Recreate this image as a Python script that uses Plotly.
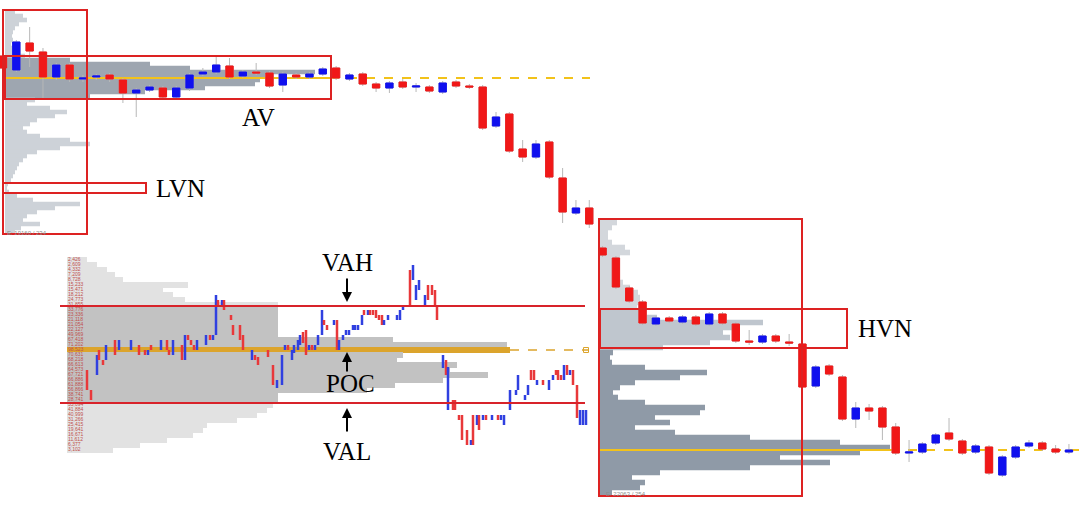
import plotly.graph_objects as go

W, H = 1080, 507
RED, BLUE = "#f01818", "#1010ee"
IRED, IBLUE = "#e8383a", "#3040e0"
ORANGE = "#dca42c"
BOXRED = "#dd2222"
YELLOW = "#f2c21a"

# ---------------- main candle series (price units, up = higher) ----------------
c_open = [451, 437, 464, 455, 430, 442, 428, 430, 432, 427, 414, 417, 419, 410, 419, 433, 435, 441, 431, 435,
          434, 422, 432, 430, 433, 439, 428, 433, 423, 419, 425, 420, 420, 415, 425, 421, 420, 381, 393, 358,
          350, 365, 329, 294, 299, 259, 249, 219, 205, 183, 189, 185, 190, 183, 193, 183, 166, 165, 171, 165,
          163, 121, 141, 130, 88, 99, 99, 80, 54, 55, 64, 74, 66, 55, 60, 32, 50, 61, 64, 58, 55]
c_high = [453, 467, 480, 459, 444, 444, 432, 433, 434, 429, 419, 422, 421, 421, 434, 439, 450, 449, 437, 444,
          436, 435, 434, 435, 440, 441, 434, 435, 425, 426, 428, 424, 422, 426, 427, 423, 422, 395, 395, 367,
          367, 367, 339, 307, 307, 261, 251, 221, 207, 191, 191, 192, 192, 195, 195, 185, 177, 173, 173, 173,
          165, 142, 143, 132, 105, 103, 101, 84, 67, 65, 74, 89, 68, 63, 62, 52, 62, 67, 66, 62, 63]
c_low = [437, 435, 440, 409, 427, 425, 425, 427, 425, 404, 390, 415, 408, 408, 416, 431, 433, 428, 429, 432,
         419, 415, 428, 428, 431, 427, 426, 421, 415, 414, 418, 415, 414, 413, 419, 418, 377, 379, 354, 345,
         348, 328, 284, 292, 279, 250, 218, 204, 182, 181, 184, 183, 181, 181, 182, 164, 162, 163, 164, 161,
         118, 119, 131, 86, 79, 87, 67, 52, 45, 53, 62, 66, 52, 53, 32, 30, 48, 59, 56, 53, 53]
c_close = [439, 465, 456, 430, 442, 428, 429, 431, 428, 414, 417, 420, 410, 419, 432, 435, 442, 430, 435, 434,
           421, 433, 430, 433, 438, 429, 432, 423, 419, 424, 420, 421, 416, 424, 421, 420, 379, 390, 356, 350,
           363, 330, 295, 299, 283, 252, 220, 206, 184, 189, 186, 190, 183, 193, 184, 166, 165, 171, 166, 164,
           120, 140, 133, 88, 99, 96, 80, 54, 55, 63, 72, 68, 54, 61, 34, 50, 60, 64, 58, 55, 57]
c_idx = list(range(len(c_open)))

# ---------------- volume profile 1 (top-left session) ----------------
p1_levels = [495 - 4 * k for k in range(56)]
p1_vol = [10, 18, 22, 14, 10, 8, 7, 8, 6, 8, 10, 20, 65, 145, 185, 310, 260, 255, 250, 200,
          140, 85, 30, 22, 45, 62, 50, 32, 25, 18, 22, 35, 65, 85, 55, 32, 22, 18, 14, 12,
          10, 8, 6, 3, 2, 4, 12, 28, 75, 50, 32, 22, 18, 35, 16, 10]
p1_va = (408, 450)
p1_poc = 429

# ---------------- volume profile 2 (right session) ----------------
p2_levels = [284.5 - 5 * k for k in range(55)]
p2_vol = [17, 12, 8, 8, 12, 25, 30, 20, 14, 12, 13, 18, 23, 30, 38, 40, 40, 37, 40, 57,
          163, 137, 123, 130, 110, 63, 13, 10, 12, 45, 107, 80, 35, 20, 13, 18, 45, 105, 100, 55,
          70, 35, 75, 150, 240, 290, 260, 180, 230, 150, 60, 32, 45, 40, 12]
p2_hvn = (157, 197)
p2_poc = 57

# ---------------- inset: bar chart with value-area profile ----------------
in_levels = [195 - 5 * j for j in range(39)]
in_vol = [20, 30, 40, 48, 56, 121, 96, 106, 118, 211, 211, 211, 211, 211, 211, 211, 326, 440, 443, 336,
          330, 390, 383, 421, 376, 328, 300, 211, 211, 206, 200, 190, 170, 140, 136, 126, 100, 73, 46]
in_labels = ["2,426", "2,609", "4,332", "7,209", "8,728", "15,233", "15,471", "18,212", "24,773", "31,855",
             "33,776", "23,336", "21,118", "21,054", "22,127", "49,969", "67,418", "71,202", "98,523", "70,631",
             "68,218", "66,613", "64,573", "67,721", "66,886", "61,888", "56,866", "38,741", "28,741", "35,094",
             "41,884", "40,999", "31,266", "25,415", "19,641", "16,671", "11,612", "6,377", "3,102"]
in_vah, in_val, in_poc = 149, 52, 105

in_t = [27, 31, 37, 39, 43, 46, 55, 59, 71, 79, 85, 88, 91, 101, 107, 109, 113, 122, 125, 128,
        131, 134, 137, 146, 150, 153, 156, 158, 162, 164, 171, 173, 180, 183, 192, 195, 198, 208, 213, 217,
        222, 225, 228, 232, 234, 238, 240, 243, 246, 249, 252, 255, 258, 262, 264, 267, 274, 277, 279, 283,
        286, 289, 293, 295, 298, 302, 304, 308, 310, 313, 316, 319, 322, 324, 328, 337, 340, 343, 350, 353,
        356, 359, 365, 368, 372, 375, 377, 383, 386, 388, 393, 395, 399, 402, 407, 411, 413, 417, 419, 423,
        426, 432, 438, 441, 444, 450, 456, 458, 465, 468, 471, 474, 477, 483, 489, 493, 496, 498, 501, 504,
        507, 510, 513, 517, 520, 523, 526]
in_high = [85, 65, 100, 105, 95, 110, 115, 115, 115, 110, 105, 105, 110, 115, 115, 105, 115, 110, 120, 120,
           115, 110, 115, 120, 120, 120, 160, 155, 155, 155, 140, 130, 130, 120, 105, 100, 98, 105, 90, 75,
           100, 110, 110, 105, 110, 115, 120, 123, 125, 110, 110, 110, 120, 145, 135, 130, 135, 135, 115, 120,
           125, 125, 130, 130, 130, 140, 145, 145, 145, 145, 145, 140, 140, 135, 140, 140, 145, 150, 185, 190,
           170, 175, 160, 170, 170, 165, 150, 100, 95, 88, 55, 55, 40, 40, 25, 15, 40, 40, 40, 40,
           40, 40, 40, 40, 40, 65, 65, 80, 60, 70, 85, 85, 75, 75, 75, 80, 85, 85, 80, 90,
           90, 85, 85, 70, 45, 45, 45]
in_low = [65, 55, 80, 95, 90, 95, 100, 105, 105, 100, 100, 100, 105, 105, 105, 100, 100, 95, 95, 115,
          110, 105, 105, 110, 115, 115, 120, 150, 150, 145, 135, 120, 115, 105, 95, 95, 90, 98, 70, 67,
          70, 105, 105, 95, 102, 105, 110, 112, 100, 105, 105, 105, 110, 120, 130, 125, 130, 105, 105, 115,
          120, 120, 125, 125, 125, 130, 140, 140, 140, 140, 137, 135, 130, 130, 135, 135, 135, 145, 150, 175,
          155, 165, 150, 155, 160, 150, 135, 87, 80, 45, 45, 45, 35, 15, 10, 10, 10, 30, 25, 35,
          35, 35, 35, 35, 30, 45, 60, 65, 55, 60, 75, 75, 70, 70, 65, 75, 80, 75, 75, 75,
          80, 80, 70, 37, 30, 30, 30]
in_up = "rrbrrbrbbrrbrbrrbrbrrrbbrbbrbrrrrrbrrrrbbbrbbbbrrbrbbbrrbrbbbbbbbbrbrrrrrbbbbbrbbbbrrrrbrbrrrrrbrbrbrbrbbbbbbbrrbrbbrrrbrbrrbbb"

# ---------------- build traces ----------------
fig = go.Figure()

# inset profile (base subplot x/y)
in_cols = [ORANGE if v == in_poc else ("#c2c2c2" if in_val < v < in_vah else "#e2e2e2") for v in in_levels]
fig.add_trace(go.Bar(x=in_vol, y=in_levels, orientation="h", width=6,
                     marker=dict(color=in_cols, line=dict(width=0)), xaxis="x", yaxis="y", hoverinfo="skip"))
fig.add_trace(go.Scatter(x=[1] * len(in_levels), y=in_levels, mode="text", text=in_labels,
                         textposition="middle right", textfont=dict(size=5, color="#c0504d", family="Liberation Sans"),
                         xaxis="x", yaxis="y", hoverinfo="skip"))
poc_len = max(in_vol)
fig.add_trace(go.Scatter(x=[poc_len, poc_len + 78], y=[in_poc, in_poc], mode="lines",
                         line=dict(color=ORANGE, width=1.5, dash="dash"), xaxis="x", yaxis="y", hoverinfo="skip"))
fig.add_trace(go.Scatter(x=[poc_len + 76], y=[in_poc], mode="markers",
                         marker=dict(symbol="square-open", size=5, color=ORANGE, line=dict(width=1)),
                         xaxis="x", yaxis="y", hoverinfo="skip"))

# inset bars (x2/y)
in_open = [lo if u == "b" else hi for hi, lo, u in zip(in_high, in_low, in_up)]
in_close = [hi if u == "b" else lo for hi, lo, u in zip(in_high, in_low, in_up)]
fig.add_trace(go.Ohlc(x=in_t, open=in_open, high=in_high, low=in_low, close=in_close,
                      increasing=dict(line=dict(color=IBLUE, width=2.5)),
                      decreasing=dict(line=dict(color=IRED, width=2.5)),
                      tickwidth=0, xaxis="x2", yaxis="y", hoverinfo="skip"))
for lvl in (in_vah, in_val):
    fig.add_trace(go.Scatter(x=[0, 525], y=[lvl, lvl], mode="lines", line=dict(color="#d8232a", width=2),
                             xaxis="x2", yaxis="y", hoverinfo="skip"))

# profile 1 (x3/y2)
p1_cols = ["#9ea6b0" if p1_va[0] <= v <= p1_va[1] else "#cdd2d8" for v in p1_levels]
fig.add_trace(go.Bar(x=p1_vol, y=p1_levels, orientation="h", width=4.6,
                     marker=dict(color=p1_cols, line=dict(width=0)), xaxis="x3", yaxis="y2", hoverinfo="skip"))
fig.add_trace(go.Scatter(x=[0, 325], y=[p1_poc, p1_poc], mode="lines", line=dict(color=YELLOW, width=2),
                         xaxis="x3", yaxis="y2", hoverinfo="skip"))
fig.add_trace(go.Scatter(x=[325, 585], y=[p1_poc, p1_poc], mode="lines",
                         line=dict(color=YELLOW, width=2, dash="dash"), xaxis="x3", yaxis="y2", hoverinfo="skip"))

# profile 2 (x4/y2)
p2_cols = ["#d3d7dc" if v > p2_hvn[1] else ("#bfc6ce" if v >= p2_hvn[0] else "#8f9aa7") for v in p2_levels]
fig.add_trace(go.Bar(x=p2_vol, y=p2_levels, orientation="h", width=5.6,
                     marker=dict(color=p2_cols, line=dict(width=0)), xaxis="x4", yaxis="y2", hoverinfo="skip"))
fig.add_trace(go.Scatter(x=[0, 290], y=[p2_poc, p2_poc], mode="lines", line=dict(color=YELLOW, width=2),
                         xaxis="x4", yaxis="y2", hoverinfo="skip"))
fig.add_trace(go.Scatter(x=[290, 480], y=[p2_poc, p2_poc], mode="lines",
                         line=dict(color=YELLOW, width=2, dash="dash"), xaxis="x4", yaxis="y2", hoverinfo="skip"))

# main candles (x5/y2): wicks then bodies
fig.add_trace(go.Candlestick(x=c_idx, open=c_open, high=c_high, low=c_low, close=c_close,
                             increasing=dict(line=dict(color="#b8b8b8", width=1), fillcolor="#b8b8b8"),
                             decreasing=dict(line=dict(color="#b8b8b8", width=1), fillcolor="#b8b8b8"),
                             whiskerwidth=0, xaxis="x5", yaxis="y2", hoverinfo="skip"))
body_hi = [max(o, c) for o, c in zip(c_open, c_close)]
body_lo = [min(o, c) for o, c in zip(c_open, c_close)]
fig.add_trace(go.Candlestick(x=c_idx, open=c_open, high=body_hi, low=body_lo, close=c_close,
                             increasing=dict(line=dict(color=BLUE, width=1), fillcolor=BLUE),
                             decreasing=dict(line=dict(color=RED, width=1), fillcolor=RED),
                             whiskerwidth=0, xaxis="x5", yaxis="y2", hoverinfo="skip"))

# ---------------- annotation helpers (paper coords from picture pixels) ----------------
def PX(x):
    return x / W


def PY(y):
    return 1 - y / H


boxes = [(3, 10, 87, 234), (5, 56, 331, 99), (3, 183, 146, 193), (599, 219, 802, 496), (600, 309, 847, 348)]
shapes = [dict(type="rect", xref="paper", yref="paper", x0=PX(a), x1=PX(c), y0=PY(d), y1=PY(b),
               line=dict(color=BOXRED, width=2), fillcolor="rgba(0,0,0,0)", layer="above") for a, b, c, d in boxes]

labels = [("AV", 258, 117), ("LVN", 180, 188), ("VAH", 347, 262), ("POC", 350, 383),
          ("VAL", 347, 451), ("HVN", 885, 328)]
annotations = [dict(text=t, x=PX(x), y=PY(y), xref="paper", yref="paper", showarrow=False,
                    xanchor="center", yanchor="middle",
                    font=dict(family="Liberation Serif", size=25, color="black")) for t, x, y in labels]
for hx, hy, dy in [(347, 302, -25), (347, 352, 21), (347, 408, 25)]:
    annotations.append(dict(text="", x=PX(hx), y=PY(hy), xref="paper", yref="paper", showarrow=True,
                            ax=0, ay=dy, arrowhead=2, arrowsize=1, arrowwidth=2, arrowcolor="black"))
for t, x, y in [("E: 19160 / 234", 5, 233), ("E: 22063 / 254", 604, 494)]:
    annotations.append(dict(text=t, x=PX(x), y=PY(y), xref="paper", yref="paper", showarrow=False,
                            xanchor="left", yanchor="middle",
                            font=dict(family="Liberation Sans", size=6, color="#8a8a8a")))

hid = dict(visible=False, showgrid=False, zeroline=False, fixedrange=True)
fig.update_layout(
    width=W, height=H, margin=dict(l=0, r=0, t=0, b=0, pad=0),
    paper_bgcolor="white", plot_bgcolor="white", showlegend=False,
    boxmode="overlay", boxgap=0.45, boxgroupgap=0,
    xaxis=dict(range=[-67, 1013], domain=[0, 1], anchor="y", **hid),
    yaxis=dict(range=[-52, 455], domain=[0, 1], anchor="x", **hid),
    xaxis2=dict(range=[-60, 1020], overlaying="x", anchor="y", rangeslider=dict(visible=False), **hid),
    yaxis2=dict(range=[0, 507], overlaying="y", anchor="x", **hid),
    xaxis3=dict(range=[-5, 1075], overlaying="x", anchor="y2", **hid),
    xaxis4=dict(range=[-600, 480], overlaying="x", anchor="y2", **hid),
    xaxis5=dict(range=[-0.225, 80.83], overlaying="x", anchor="y2", rangeslider=dict(visible=False), **hid),
    shapes=shapes, annotations=annotations,
)

fig.write_html("out.html", config={"displayModeBar": False},
               post_script="document.body.style.margin='0px';document.body.style.overflow='hidden';")
